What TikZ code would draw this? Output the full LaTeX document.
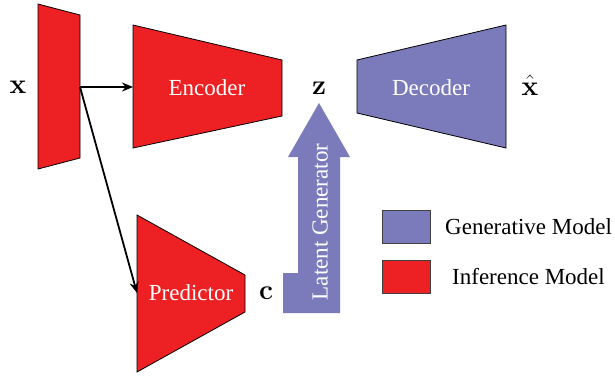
\RequirePackage{fix-cm}
\documentclass[tikz,border=0pt]{standalone}
\usepackage[no-math]{fontspec}
\setmainfont{Liberation Serif}
\usetikzlibrary{arrows.meta}
\definecolor{infred}{RGB}{237,32,36}
\definecolor{genblue}{RGB}{123,123,187}
\begin{document}
\begin{tikzpicture}[x=1pt,y=-1pt,
  redblock/.style={fill=infred, draw=black, line width=0.8pt, line join=miter},
  blueblock/.style={fill=genblue, draw=black, line width=0.8pt, line join=miter},
  txt/.style={font=\fontsize{23}{27}\selectfont, inner sep=0pt},
  wtxt/.style={txt, text=white},
  mathlbl/.style={font=\fontsize{28}{32}\selectfont, inner sep=0pt},
  flow/.style={line width=1.8pt, -{Stealth[length=11pt,width=9pt]}},
  legendbox/.style={draw=black!75, line width=0.8pt}]
\useasboundingbox (0,0) rectangle (615,376);

% input slab
\path[redblock] (38,4) -- (80,15) -- (80,158) -- (38,169) -- cycle;
\node[mathlbl] (x) at (18,87) {$\mathbf{x}$};
\coordinate (xout) at (80,87);

% encoder
\path[redblock] (133,25) -- (282,60) -- (282,116) -- (133,148) -- cycle;
\node[wtxt] (enc) at (207,88) {Encoder};
\coordinate (encin) at (133,87);

% latent code
\node[mathlbl] (z) at (319,88) {$\mathbf{z}$};

% decoder
\path[blueblock] (357,60) -- (506,25) -- (506,148) -- (357,113) -- cycle;
\node[wtxt] (dec) at (431,88) {Decoder};
\node[mathlbl, anchor=base] (xhat) at (530,95) {$\hat{\mathbf{x}}$};

% predictor
\path[redblock] (137,215) -- (245,275) -- (245,312) -- (137,372) -- cycle;
\node[wtxt] (pred) at (191,293) {Predictor};
\coordinate (predin) at (137,293);
\node[mathlbl] (c) at (266,293) {$\mathbf{c}$};

% latent generator arrow
\fill[genblue] (283,313) -- (340,313) -- (340,157) -- (350,157) -- (319,103)
  -- (288,157) -- (298,157) -- (298,273) -- (283,273) -- cycle;
\node[wtxt, rotate=90] (gen) at (320,222) {Latent Generator};

% connectors
\draw[flow] (xout) -- (encin);
\draw[flow] (xout) -- (predin);

% legend
\draw[legendbox, fill=genblue] (382,210) rectangle (430,243);
\draw[legendbox, fill=infred] (382,260) rectangle (430,293);
\node[txt, anchor=west] (lgen) at (445,227) {Generative Model};
\node[txt, anchor=west] (linf) at (452,277) {Inference Model};
\end{tikzpicture}
\end{document}
